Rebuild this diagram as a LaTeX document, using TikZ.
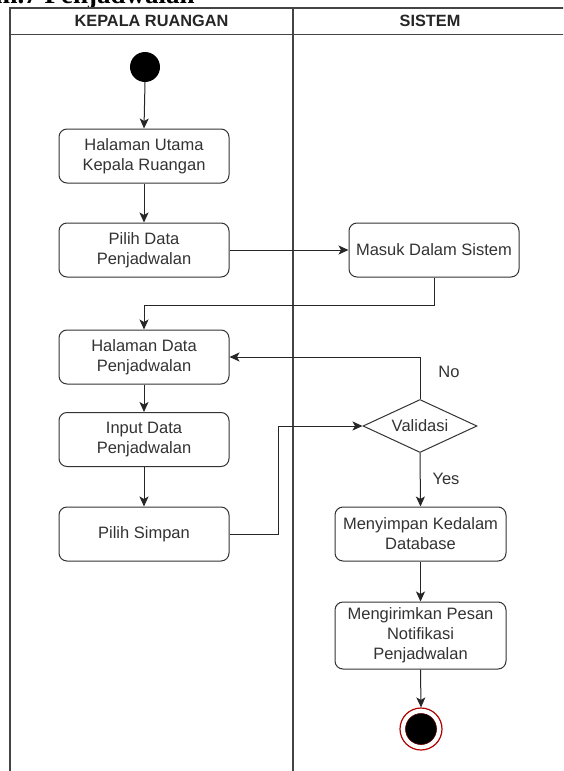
\documentclass[tikz,border=0pt]{standalone}
\usepackage{fontspec}
\newfontfamily\labf{Liberation Sans}
\newfontfamily\capf{Liberation Serif}
\usetikzlibrary{shapes.geometric,arrows.meta}
\definecolor{ink}{HTML}{333333}
\definecolor{lanec}{HTML}{444444}
\definecolor{endred}{HTML}{B20000}
\tikzset{
  actbox/.style={draw=ink, line width=1pt, rounded corners=8pt, fill=white,
    minimum width=170pt, minimum height=54pt, align=center, inner sep=2pt,
    text=ink, font=\labf\fontsize{16.5}{20}\selectfont},
  decbox/.style={draw=ink, line width=1pt, shape=diamond, aspect=2.15, inner sep=0pt,
    minimum width=114pt, minimum height=53pt, fill=white,
    text=ink, font=\labf\fontsize{16.5}{20}\selectfont},
  lbl/.style={text=ink, font=\labf\fontsize{16.5}{20}\selectfont, inner sep=0pt},
  hdr/.style={text=black!85, font=\labf\bfseries\fontsize{16.3}{18}\selectfont, inner sep=0pt},
  arr/.style={draw=black!85, line width=1pt, -{Stealth[length=10pt,width=9pt,inset=2.5pt]}},
  lane/.style={draw=lanec, line width=1.4pt},
}
\begin{document}
\begin{tikzpicture}[x=1pt,y=-1pt]
\useasboundingbox (0,0) rectangle (563,771);
\clip (0,0) rectangle (563,771);
\fill[white] (0,0) rectangle (563,771);
% caption (cut off at the top, as in the reference)
\node[anchor=base west, inner sep=0pt, font=\capf\bfseries\fontsize{27}{27}\selectfont] (cap) at (-5,4) {m.7 Penjadwalan};
% swimlanes
\draw[lane] (10,775) -- (10,8) -- (565,8);
\draw[draw=lanec, line width=1pt] (10,34) -- (565,34);
\draw[lane] (293,8) -- (293,775);
\node[hdr] (h1) at (151.5,21) {KEPALA RUANGAN};
\node[hdr] (h2) at (430,21) {SISTEM};
% nodes
\node[circle, fill=black, minimum size=30pt, inner sep=0pt] (start) at (145,67) {};
\node[actbox] (b1) at (144,156) {Halaman Utama\\Kepala Ruangan};
\node[actbox] (b2) at (144,250) {Pilih Data\\Penjadwalan};
\node[actbox] (masuk) at (434,250) {Masuk Dalam Sistem};
\node[actbox] (b3) at (144,357) {Halaman Data\\Penjadwalan};
\node[actbox] (b4) at (144,439.5) {Input Data\\Penjadwalan};
\node[actbox] (b5) at (144,534) {Pilih Simpan};
\node[decbox] (val) at (420,426) {Validasi};
\node[actbox, minimum width=171pt] (b6) at (420.5,534) {Menyimpan Kedalam\\Database};
\node[actbox, minimum width=171pt, minimum height=67pt] (b7) at (420.5,635.5) {Mengirimkan Pesan\\Notifikasi\\Penjadwalan};
\node[circle, draw=endred, line width=1.2pt, fill=white, minimum size=42pt, inner sep=0pt] (end) at (421,729) {};
\node[circle, fill=black, draw=endred!50!black, line width=0.6pt, minimum size=31pt, inner sep=0pt] (endin) at (end.center) {};
% labels
\node[lbl] (no) at (449,372) {No};
\node[lbl] (yes) at (446,479) {Yes};
% connectors
\draw[arr] (start.south) -- (b1.north);
\draw[arr] (b1.south) -- (b2.north);
\draw[arr] (b2.east) -- (masuk.west);
\draw[arr] (masuk.south) -- ++(0,28) -| (b3.north);
\draw[arr] (val.north) |- (b3.east);
\draw[arr] (b3.south) -- (b4.north);
\draw[arr] (b4.south) -- (b5.north);
\draw[arr] (b5.east) -- ++(49,0) |- (val.west);
\draw[arr] (val.south) -- (b6.north);
\draw[arr] (b6.south) -- (b7.north);
\draw[arr] (b7.south) -- (end.north);
\end{tikzpicture}
\end{document}
